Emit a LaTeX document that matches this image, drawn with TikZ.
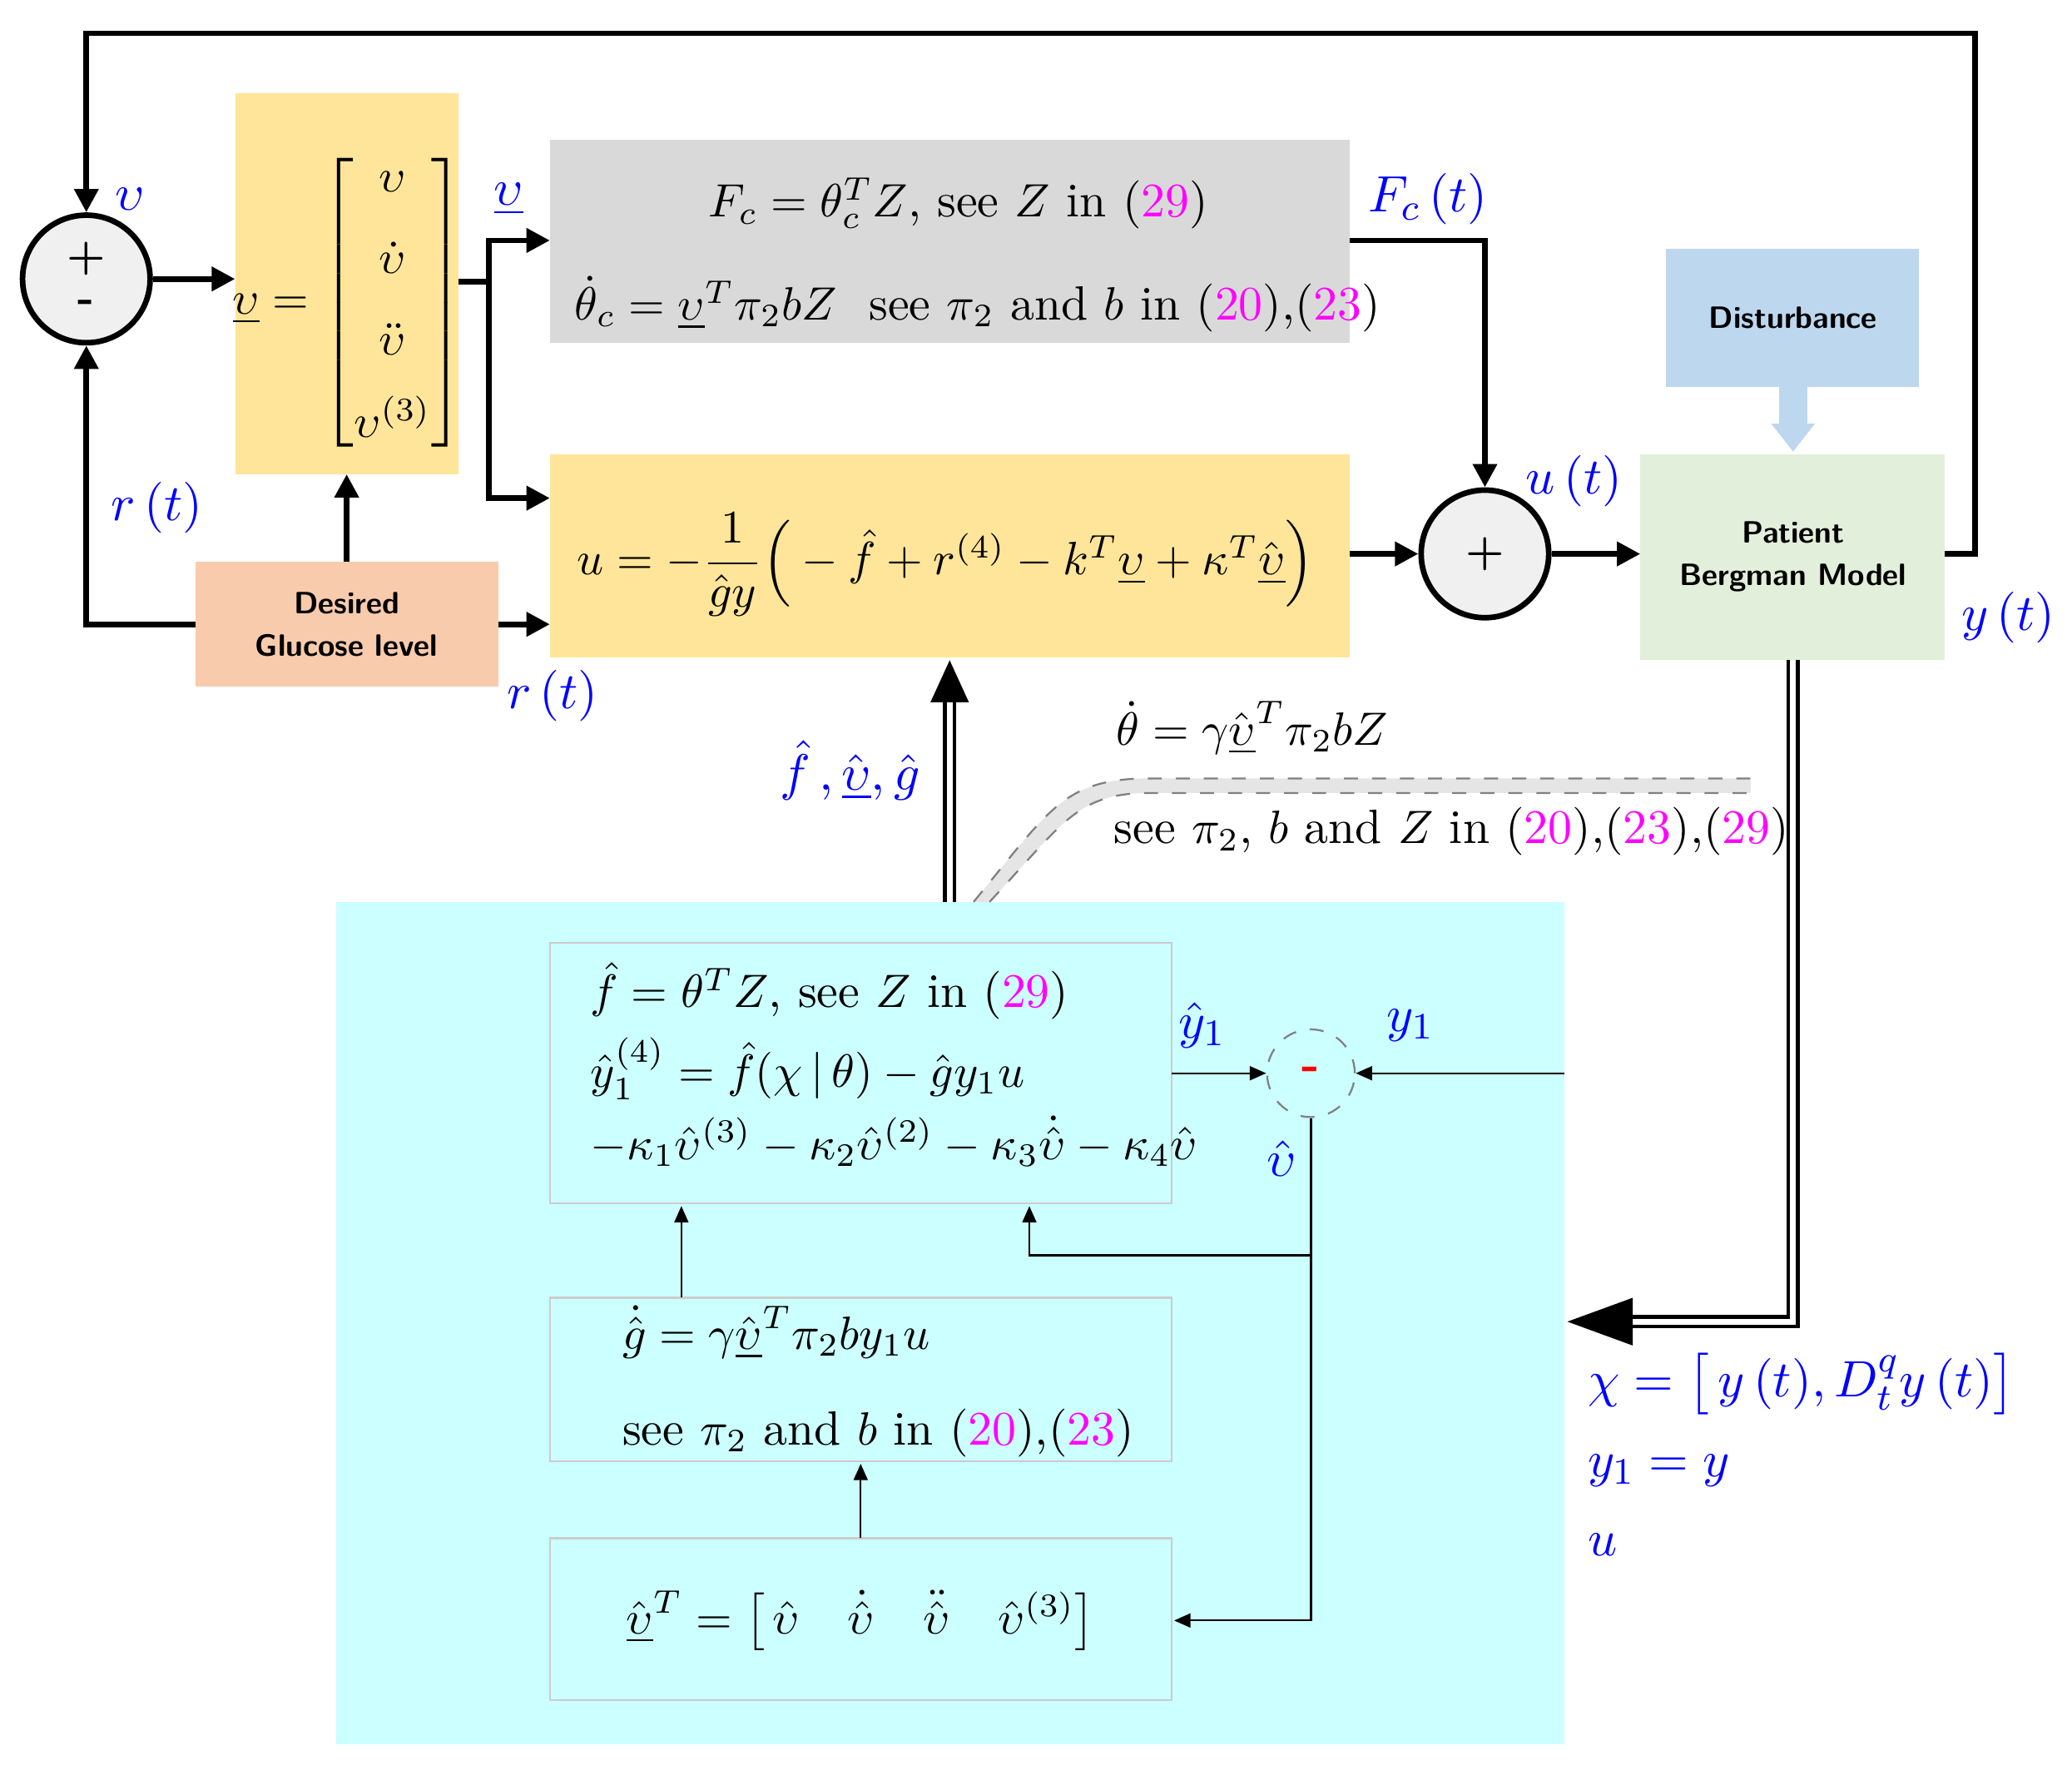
\documentclass[tikz,border=0pt]{standalone}
\usepackage{amsmath}
\usepackage{amssymb}
\usetikzlibrary{arrows.meta,positioning}
\definecolor{boxyellow}{HTML}{FFE599}
\definecolor{boxgray}{HTML}{D9D9D9}
\definecolor{boxsalmon}{HTML}{F8CBAD}
\definecolor{boxblue}{HTML}{BDD7EE}
\definecolor{boxgreen}{HTML}{E2EFDA}
\definecolor{boxcyan}{HTML}{CCFFFF}
\definecolor{sigblue}{HTML}{0000FF}
\definecolor{refmag}{HTML}{FF00FF}
\newcommand{\rf}[1]{\textcolor{refmag}{#1}}
\newcommand{\ub}{\underline{\upsilon}}
\begin{document}
\begin{tikzpicture}[x=0.01cm,y=-0.01cm,
  blk/.style={draw=none,inner sep=0pt,font=\fontsize{10.3}{12.5}\selectfont},
  sumc/.style={circle,draw,very thick,fill=boxgray!40,minimum size=0.96cm,inner sep=0pt},
  sig/.style={-{Triangle[length=5pt,width=5pt]},very thick},
  thin sig/.style={-{Triangle[length=3.5pt,width=3pt]},thin},
  lbl/.style={text=sigblue,font=\fontsize{11}{13}\selectfont},
  sfb/.style={font=\sffamily\bfseries\fontsize{6.6}{9}\selectfont,align=center}]

	\useasboundingbox (0,0) rectangle (1560,1332);

	% Blocks
	\fill[boxcyan] (253,679) rectangle (1178,1313);
	\fill[boxyellow] (177,70) rectangle (345,357);
	\fill[boxgray] (414,105) rectangle (1016,258);
	\fill[boxyellow] (414,342) rectangle (1016,495);
	\fill[boxsalmon] (147,423) rectangle (375,517);
	\fill[boxblue] (1254,187) rectangle (1445,291);
	\fill[boxgreen] (1235,342) rectangle (1464,497);
	\draw[gray!40] (414,710) rectangle (882,906);
	\draw[gray!40] (414,977) rectangle (882,1100);
	\draw[gray!40] (414,1158) rectangle (882,1280);

	\node[blk] (vec) at (262,228) {$\ub=\begin{bmatrix}\upsilon\\[5pt]\dot\upsilon\\[5pt]\ddot\upsilon\\[5pt]\upsilon^{(3)}\end{bmatrix}$};
	\node[blk,anchor=west] (fc1) at (533,153) {$F_c=\theta_c^T Z$, see $Z$ in (\rf{29})};
	\node[blk,anchor=west] (fc2) at (432,229) {$\dot\theta_c=\ub^T\pi_2 bZ$ \ see $\pi_2$ and $b$ in (\rf{20}),(\rf{23})};
	\node[blk] (ctrl) at (712,425) {$u=-\dfrac{1}{\hat g y}\Big(-\hat f+r^{(4)}-k^{T}\ub+\kappa^{T}\hat{\ub}\Big)$};
	\node[blk,sfb] (des) at (261,470) {Desired\\Glucose level};
	\node[blk,sfb] (dist) at (1350,239) {Disturbance};
	\node[blk,sfb] (pat) at (1350,419) {Patient\\Bergman Model};
	\node[sumc] (s1) at (65,210) {};
	\node[font=\small] at (65,195) {\textbf{+}};
	\node[font=\small] at (65,230) {\textbf{-}};
	\node[sumc,font=\small] (s2) at (1118,417) {\textbf{+}};
	\node[circle,draw=gray,dashed,thin,minimum size=0.66cm,inner sep=0pt] (s3) at (987,808) {\textcolor{red}{\textbf{-}}};

	\node[blk,align=left,anchor=north west] (obs) at (444,724) {$\hat f=\theta^T Z$, see $Z$ in (\rf{29})\\[3pt]
	  $\hat y_1^{(4)}=\hat f(\chi\,|\,\theta)-\hat g y_1 u$\\[3pt]
	  $-\kappa_1\hat\upsilon^{(3)}-\kappa_2\hat\upsilon^{(2)}-\kappa_3\dot{\hat\upsilon}-\kappa_4\hat\upsilon$};
	\node[blk,align=left,anchor=west] (gdot) at (468,1040) {$\dot{\hat g}=\gamma\hat{\ub}^T\pi_2 b y_1 u$\\[8pt]
	  see $\pi_2$ and $b$ in (\rf{20}),(\rf{23})};
	\node[blk] (vhat) at (648,1220) {$\hat{\ub}^T=\big[\,\hat\upsilon\quad\dot{\hat\upsilon}\quad\ddot{\hat\upsilon}\quad\hat\upsilon^{(3)}\big]$};

	% Shaded band
	\fill[gray!20] (733,679) .. controls (790,610) and (800,588) .. (860,586) -- (1318,586) -- (1318,597) -- (860,597) .. controls (810,599) and (800,620) .. (745,679) -- cycle;
	\draw[gray,dashed,thin] (733,679) .. controls (790,610) and (800,588) .. (860,586) -- (1318,586);
	\draw[gray,dashed,thin] (745,679) .. controls (800,620) and (810,599) .. (860,597) -- (1318,597);
	\node[blk,anchor=west] (th) at (840,548) {$\dot\theta=\gamma\hat{\ub}^T\pi_2 bZ$};
	\node[blk,anchor=west] (see) at (838,626) {see $\pi_2$, $b$ and $Z$ in (\rf{20}),(\rf{23}),(\rf{29})};

	% Connectors
	\coordinate (fb) at (1487,25);
	\draw[sig] (1464,417) -- (1487,417) -- (fb) -| (s1.north);
	\draw[sig] (s1.east) -- (177,210);
	\draw[very thick] (345,212) -- (368,212);
	\draw[sig] (368,212) |- (414,181);
	\draw[sig] (368,212) |- (414,375);
	\draw[sig] (1016,181) -| (s2.north);
	\draw[sig] (1016,417) -- (s2.west);
	\draw[sig] (s2.east) -- (1235,417);
	\draw[sig] (261,423) -- (261,357);
	\draw[sig] (147,470) -| (s1.south);
	\draw[sig] (375,470) -- (414,470);
	\draw[boxblue,line width=6pt,-{Triangle[length=6pt,width=9pt]}] (1350,291) -- (1350,340);
	\draw[double,double distance=1.2pt,thick,-{Triangle[length=14pt,width=10pt]}] (1350,497) |- (1180,995);
	\draw[double,double distance=1.2pt,thick,-{Triangle[length=9pt,width=8pt]}] (715,679) -- (715,497);
	\draw[thin sig] (882,808) -- (s3.west);
	\draw[thin sig] (1178,808) -- (s3.east);
	\draw[thin sig] (s3.south) -- (987,1220) -- (884,1220);
	\draw[thin sig] (987,945) -| (775,908);
	\draw[thin sig] (513,977) -- (513,908);
	\draw[thin sig] (648,1158) -- (648,1102);

	% Signal labels
	\node[lbl] (lv) at (98,150) {$\upsilon$};
	\node[lbl] (lvb) at (383,150) {$\ub$};
	\node[lbl] (lr1) at (118,382) {$r\,(t)$};
	\node[lbl] (lr2) at (416,524) {$r\,(t)$};
	\node[lbl] (lfc) at (1075,150) {$F_c\,(t)$};
	\node[lbl] (lu) at (1185,362) {$u\,(t)$};
	\node[lbl] (ly) at (1512,465) {$y\,(t)$};
	\node[lbl] (lfg) at (640,580) {$\hat f\,,\hat{\ub},\hat g$};
	\node[lbl] (ly1h) at (905,772) {$\hat y_1$};
	\node[lbl] (ly1) at (1062,772) {$y_1$};
	\node[lbl] (lvh) at (965,872) {$\hat\upsilon$};
	\node[lbl,anchor=west,align=left] (lchi) at (1183,1095) {$\chi=\big[\,y\,(t),D_t^q y\,(t)\big]$\\[4pt]$y_1=y$\\[4pt]$u$};
\end{tikzpicture}
\end{document}
